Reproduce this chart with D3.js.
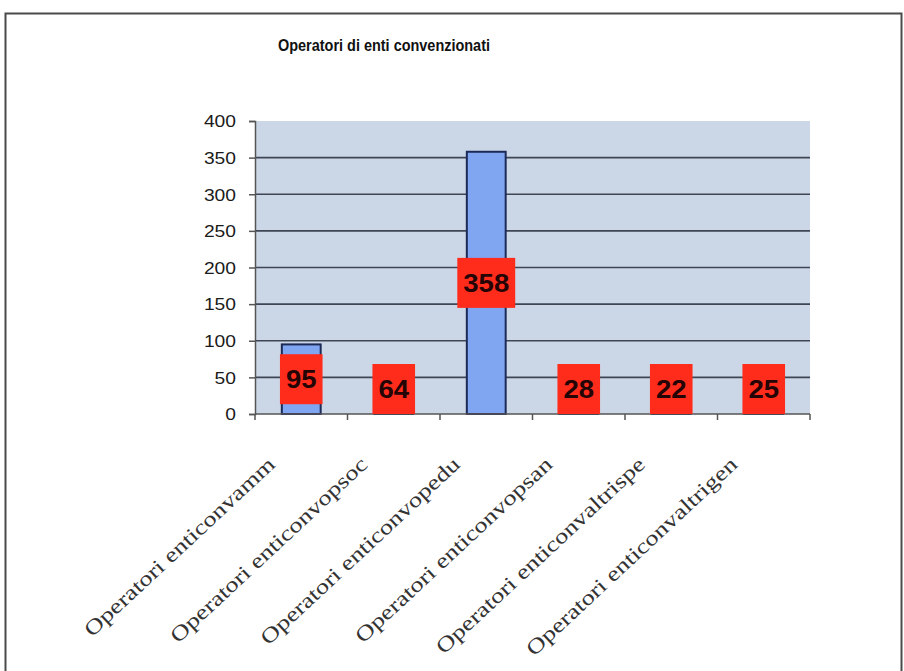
<!DOCTYPE html>
<html>
<head>
<meta charset="utf-8">
<script src="https://cdn.jsdelivr.net/npm/d3@7"></script>
<style>
  html, body { margin: 0; padding: 0; background: #ffffff; }
  svg { display: block; }
</style>
</head>
<body>
<svg id="chart" width="904" height="671"></svg>
<script>
// ---- data ----
const title = "Operatori di enti convenzionati";
const categories = [
  "Operatori enticonvamm",
  "Operatori enticonvopsoc",
  "Operatori enticonvopedu",
  "Operatori enticonvopsan",
  "Operatori enticonvaltrispe",
  "Operatori enticonvaltrigen"
];
const values = [95, 64, 358, 28, 22, 25];
const yTicks = [0, 50, 100, 150, 200, 250, 300, 350, 400];

// ---- layout ----
const plot = { left: 255, right: 810, top: 121, bottom: 414 };

const svg = d3.select("#chart");

// outer frame
svg.append("rect")
  .attr("x", 5.5).attr("y", 13.5)
  .attr("width", 896).attr("height", 700)
  .attr("fill", "#ffffff")
  .attr("stroke", "#4a4a4a").attr("stroke-width", 2);

// title
svg.append("text")
  .attr("x", 384).attr("y", 51)
  .attr("text-anchor", "middle")
  .attr("font-family", "'Liberation Sans', Arial, sans-serif")
  .attr("font-weight", "bold")
  .attr("font-size", 17)
  .attr("textLength", 212)
  .attr("lengthAdjust", "spacingAndGlyphs")
  .attr("fill", "#111")
  .text(title);

// scales
const x = d3.scaleBand()
  .domain(categories)
  .range([plot.left, plot.right])
  .paddingInner(0.58)
  .paddingOuter(0.29);

const y = d3.scaleLinear()
  .domain([0, 400])
  .range([plot.bottom, plot.top]);

// plot background
svg.append("rect")
  .attr("x", plot.left).attr("y", plot.top)
  .attr("width", plot.right - plot.left)
  .attr("height", plot.bottom - plot.top)
  .attr("fill", "#cbd6e6");

// gridlines
svg.append("g")
  .selectAll("line")
  .data(yTicks.filter(d => d > 0 && d < 400))
  .join("line")
  .attr("x1", plot.left).attr("x2", plot.right)
  .attr("y1", d => y(d)).attr("y2", d => y(d))
  .attr("stroke", "#3e4654").attr("stroke-width", 1.6);

// bars
svg.append("g")
  .selectAll("rect")
  .data(values)
  .join("rect")
  .attr("x", (d, i) => x(categories[i]))
  .attr("y", d => y(d))
  .attr("width", x.bandwidth())
  .attr("height", d => y(0) - y(d))
  .attr("fill", "#80a6f2")
  .attr("stroke", "#1c2a58")
  .attr("stroke-width", 2);

// y axis
const yAxis = d3.axisLeft(y)
  .tickValues(yTicks)
  .tickSize(6)
  .tickPadding(13);
const gy = svg.append("g")
  .attr("transform", `translate(${plot.left},0)`)
  .call(yAxis);
gy.select(".domain").attr("stroke", "#555").attr("stroke-width", 1.5);
gy.selectAll(".tick line").attr("stroke", "#555").attr("stroke-width", 1.5);
gy.selectAll(".tick text")
  .attr("font-family", "'Liberation Sans', Arial, sans-serif")
  .attr("font-size", 16)
  .attr("fill", "#1a1a1a")
  .attr("dy", "0.36em")
  .each(function(d) {
    const n = String(d).length;
    d3.select(this).attr("textLength", n * 10.7).attr("lengthAdjust", "spacingAndGlyphs");
  });

// x axis (ticks at category boundaries)
const boundaries = d3.range(categories.length + 1).map(i => plot.left + i * x.step());
const gx = svg.append("g");
gx.append("line")
  .attr("x1", plot.left).attr("x2", plot.right)
  .attr("y1", plot.bottom).attr("y2", plot.bottom)
  .attr("stroke", "#555").attr("stroke-width", 1.5);
gx.selectAll("line.tk")
  .data(boundaries)
  .join("line")
  .attr("class", "tk")
  .attr("x1", d => d).attr("x2", d => d)
  .attr("y1", plot.bottom).attr("y2", plot.bottom + 6)
  .attr("stroke", "#555").attr("stroke-width", 1.5);

// category labels, rotated
const catLabels = svg.append("g")
  .selectAll("text")
  .data(categories)
  .join("text")
  .attr("transform", d => `translate(${x(d) + x.bandwidth() / 2 - 25},${plot.bottom + 52}) rotate(-43)`)
  .attr("text-anchor", "end")
  .attr("font-family", "'Liberation Serif', 'Times New Roman', serif")
  .attr("font-size", 21)
  .attr("fill", "#333")
  .text(d => d);
catLabels.each(function() {
  const w = this.getComputedTextLength();
  d3.select(this).attr("textLength", w * 1.26).attr("lengthAdjust", "spacingAndGlyphs");
});

// value labels (red boxes)
const boxH = 50;
const lbl = svg.append("g")
  .selectAll("g")
  .data(values)
  .join("g")
  .attr("transform", (d, i) => {
    const cx = x(categories[i]) + x.bandwidth() / 2;
    const top = Math.min(y(d / 2) - boxH / 2, y(0) - boxH);
    return `translate(${cx},${top})`;
  });
lbl.append("rect")
  .attr("x", d => -(String(d).length * 15.3 + 12) / 2)
  .attr("y", 0)
  .attr("width", d => String(d).length * 15.3 + 12)
  .attr("height", boxH)
  .attr("fill", "#ff2c1c");
lbl.append("text")
  .attr("x", 0)
  .attr("y", boxH / 2 + 9)
  .attr("text-anchor", "middle")
  .attr("font-family", "'Liberation Sans', Arial, sans-serif")
  .attr("font-weight", "bold")
  .attr("font-size", 25)
  .attr("fill", "#240404")
  .attr("textLength", d => String(d).length * 15.3)
  .attr("lengthAdjust", "spacingAndGlyphs")
  .text(d => d);
</script>
</body>
</html>
